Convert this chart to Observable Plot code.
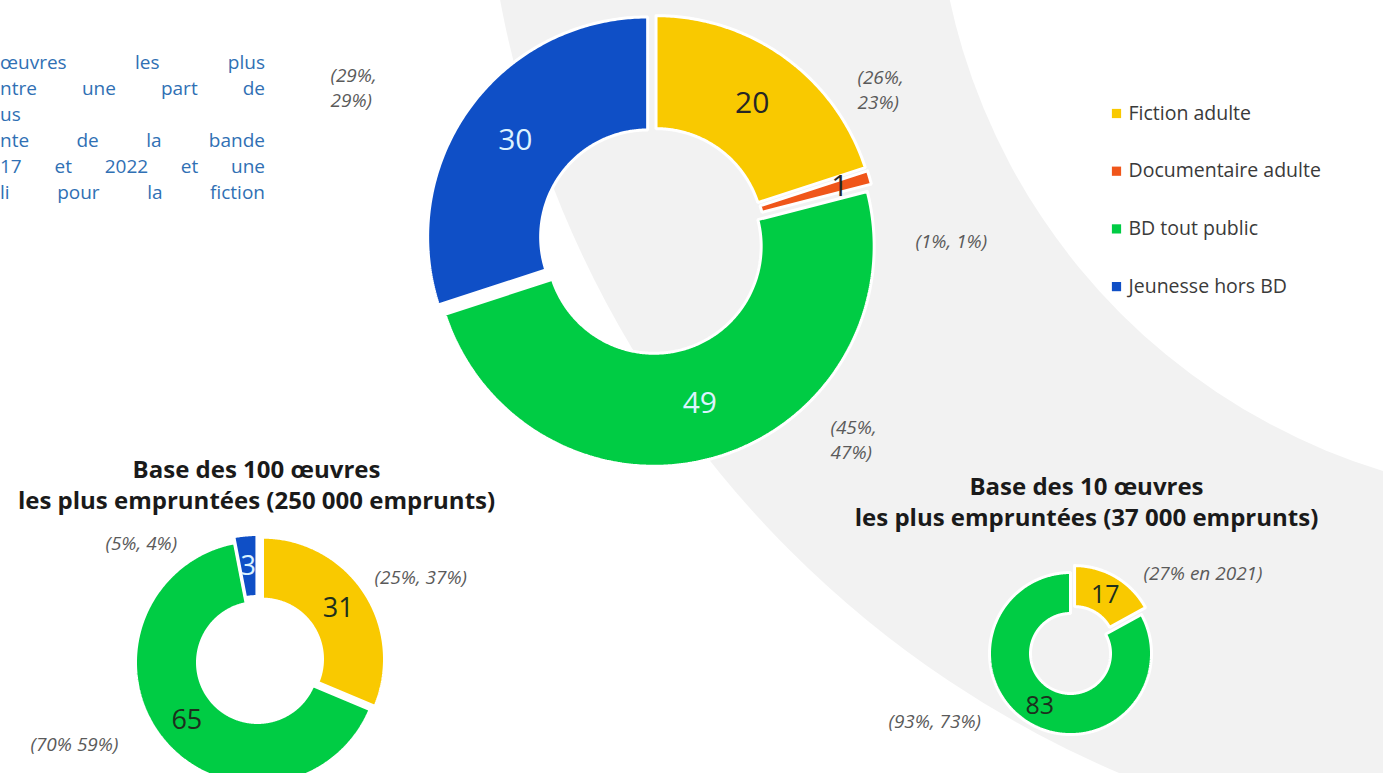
<!DOCTYPE html>
<html>
<head>
<meta charset="utf-8">
<script src="https://cdn.jsdelivr.net/npm/d3@7"></script>
<script src="https://cdn.jsdelivr.net/npm/@observablehq/plot@0.6"></script>
<style>
  html, body { margin: 0; padding: 0; background: #ffffff; }
  #wrap { position: relative; width: 1383px; height: 773px; overflow: hidden; font-family: "Open Sans", sans-serif; }
  #chart { position: absolute; left: 0; top: 0; }
  #para { position: absolute; left: 0; top: 49px; width: 265px; color: #3070b4; font-size: 19px; line-height: 26px; }
  #para div { height: 26px; text-align: justify; text-align-last: justify; white-space: nowrap; }
  #para div.last { text-align-last: left; }
</style>
</head>
<body>
<div id="wrap">
  <div id="chart"></div>
  <div id="para"></div>
</div>
<script>
// ---------- data ----------
const categories = ["Fiction adulte", "Documentaire adulte", "BD tout public", "Jeunesse hors BD"];
const colors = ["#f9c900", "#f0561a", "#00cc44", "#0f4fc6"];

const mainValues   = [20, 1, 49, 30];
const top100Values = [31, 0, 65, 3];
const top10Values  = [17, 0, 83, 0];

const mainNotes   = ["(26%,\n23%)", "(1%, 1%)", "(45%,\n47%)", "(29%,\n29%)"];
const top100Notes = ["(25%, 37%)", "", "(70% 59%)", "(5%, 4%)"];
const top10Notes  = ["(27% en 2021)", "", "(93%, 73%)", ""];

const top100Title = "Base des 100 œuvres\nles plus empruntées (250 000 emprunts)";
const top10Title  = "Base des 10 œuvres\nles plus empruntées (37 000 emprunts)";

const paragraphLines = [
  "œuvres les plus",
  "ntre une part de",
  "us",
  "nte de la bande",
  "17 et 2022 et une",
  "li pour la fiction"
];

// ---------- layout (positions / sizes / styles) ----------
const W = 1383, H = 773;
const layout = [
  {id: "main", values: mainValues, notes: mainNotes, cx: 652, cy: 240, R: 220, r: 107,
   explode: [6, 6, 6, 6], fontSize: 30, light: [false, false, true, true],
   labelRadius: {1: 0.86},
   notePos: [[857, 66], [915, 230], [830, 416], [330, 64]]},
  {id: "top100", values: top100Values, notes: top100Notes, cx: 257, cy: 662, R: 122, r: 60,
   explode: [6, 0, 0, 6], fontSize: 27, light: [false, false, false, true],
   labelRadius: {},
   notePos: [[374, 566], null, [30, 733], [105, 532]]},
  {id: "top10", values: top10Values, notes: top10Notes, cx: 1070, cy: 653, R: 81, r: 40,
   explode: [8, 0, 0, 0], fontSize: 25, light: [false, false, false, false],
   labelRadius: {},
   notePos: [[1143, 562], null, [888, 710], null]}
];

// ---------- build slice polygons from values ----------
const slicePts = [];
const labelPts = [];
const notePts = [];
const pie = d3.pie().sort(null).value(d => d.v);
layout.forEach(dn => {
  const items = dn.values.map((v, i) => ({v, i})).filter(d => d.v > 0);
  const arcs = pie(items);
  arcs.forEach(a => {
    const i = a.data.i;
    const mid = (a.startAngle + a.endAngle) / 2;
    const ex = dn.explode[i] || 0;
    const ox = dn.cx + ex * Math.sin(mid), oy = dn.cy - ex * Math.cos(mid);
    const id = dn.id + "-" + i;
    const n = Math.max(2, Math.ceil((a.endAngle - a.startAngle) / 0.01));
    const ring = [];
    for (let k = 0; k <= n; k++) {
      const t = a.startAngle + (a.endAngle - a.startAngle) * k / n;
      ring.push([ox + dn.R * Math.sin(t), oy - dn.R * Math.cos(t)]);
    }
    for (let k = n; k >= 0; k--) {
      const t = a.startAngle + (a.endAngle - a.startAngle) * k / n;
      ring.push([ox + dn.r * Math.sin(t), oy - dn.r * Math.cos(t)]);
    }
    ring.push(ring[0]);
    ring.forEach(p => slicePts.push({id, cat: categories[i], x: p[0], y: p[1]}));
    const lr = dn.labelRadius[i] ? dn.labelRadius[i] * dn.R : (dn.R + dn.r) / 2;
    labelPts.push({donut: dn.id, light: dn.light[i],
      x: ox + lr * Math.sin(mid), y: oy - lr * Math.cos(mid), text: String(a.data.v)});
  });
  dn.notes.forEach((t, i) => {
    if (t && dn.notePos[i]) notePts.push({x: dn.notePos[i][0], y: dn.notePos[i][1], text: t});
  });
});

const titles = [
  {x: 256, y: 455, text: top100Title},
  {x: 1086, y: 472, text: top10Title}
];

const labelMarks = [];
layout.forEach(dn => {
  [true, false].forEach(light => {
    const sub = labelPts.filter(d => d.donut === dn.id && d.light === light);
    if (!sub.length) return;
    labelMarks.push(Plot.text(sub, {
      x: "x", y: "y", text: "text",
      fill: light ? "#dcf3ff" : (dn.id === "main" ? "#262626" : "#1d2f1d"),
      fontSize: dn.fontSize, textAnchor: "middle", lineAnchor: "middle"
    }));
  });
});

const chart = Plot.plot({
  width: W, height: H,
  margin: 0,
  x: {domain: [0, W], axis: null},
  y: {domain: [0, H], reverse: true, axis: null},
  color: {domain: categories, range: colors},
  style: {background: "transparent", fontFamily: "Open Sans, sans-serif", overflow: "hidden"},
  marks: [
    // background band (decoration)
    Plot.dot([0], {x: () => 1531, y: () => -192, r: 1049, fill: "#f2f2f2", stroke: "none"}),
    Plot.dot([0], {x: () => 1567, y: () => -134, r: 632, fill: "#ffffff", stroke: "none"}),
    // slices
    Plot.line(slicePts, {x: "x", y: "y", z: "id", fill: "cat", stroke: "#ffffff", strokeWidth: 3, strokeLinejoin: "miter", curve: "linear"}),
    ...labelMarks,
    // annotations
    Plot.text(notePts, {x: "x", y: "y", text: "text", textAnchor: "start", lineAnchor: "top",
      fontStyle: "italic", fill: "#5a5a5a", fontSize: 19, lineHeight: 1.3, letterSpacing: 1.8}),
    // titles
    Plot.text(titles, {x: "x", y: "y", text: "text", textAnchor: "middle", lineAnchor: "top",
      fontWeight: "bold", fill: "#1a1a1a", fontSize: 24, lineHeight: 1.3, letterSpacing: -0.6}),
    // legend
    Plot.dot(categories, {x: () => 1116, y: (d, i) => 113 + i * 57.7, fill: d => d, symbol: "square", r: 5.2}),
    Plot.text(categories, {x: () => 1128, y: (d, i) => 113 + i * 57.7, text: d => d, textAnchor: "start",
      fill: "#3a3a3a", fontSize: 19.5, letterSpacing: 2.8})
  ]
});
document.getElementById("chart").appendChild(chart);

const para = document.getElementById("para");
paragraphLines.forEach(t => {
  const div = document.createElement("div");
  div.textContent = t;
  if (t === "us") div.className = "last";
  para.appendChild(div);
});
</script>
</body>
</html>
